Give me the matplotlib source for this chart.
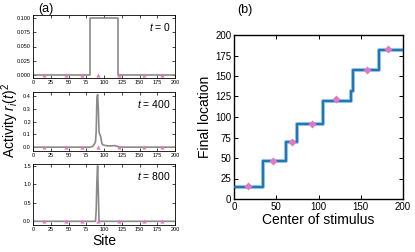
import matplotlib
matplotlib.use("Agg")
import matplotlib.pyplot as plt
import numpy as np

plt.rcParams['font.family'] = ['Liberation Sans', 'DejaVu Sans']
plt.rcParams['mathtext.fontset'] = 'custom'
plt.rcParams['mathtext.it'] = 'Liberation Sans:italic'
plt.rcParams['mathtext.rm'] = 'Liberation Sans'

# Stimulus centres (markers)
centers = [16, 46, 69, 92, 121, 157, 182]
final_at_centers = [16, 46, 69, 92, 122, 157, 183]

# Activity profiles (site, value)
t0_sites = [0, 80, 80, 120, 120, 200]
t0_vals = [0.0, 0.0, 0.1, 0.1, 0.0, 0.0]

t400_sites = [0, 80, 84, 86, 88, 89, 90, 91, 92, 93, 94, 95, 96, 97, 98, 100, 105, 110, 115, 118, 120, 125, 200]
t400_vals = [0.0, 0.0, 0.005, 0.02, 0.04, 0.12, 0.38, 0.41, 0.3, 0.12, 0.1, 0.09, 0.06, 0.03, 0.02, 0.015, 0.01, 0.01, 0.012, 0.008, 0.003, 0.0, 0.0]

t800_sites = [0, 88, 89, 90, 91, 92, 93, 200]
t800_vals = [0.0, 0.0, 0.3, 1.1, 1.5, 0.8, 0.0, 0.0]

# Final location vs. stimulus centre (step function)
step_x = [0, 34.5, 34.5, 62, 62, 75, 75, 105, 105, 139, 139, 141, 141, 171.5, 171.5, 200]
step_y = [15, 15, 46, 46, 70, 70, 91, 91, 120, 120, 132, 132, 157, 157, 182, 182]

fig = plt.figure(figsize=(4.15, 2.52), dpi=100)
W, H = 415, 252

def ax_px(l, t, r, b):
    return fig.add_axes([l / W, 1 - b / H, (r - l) / W, (b - t) / H])

gray = '#8a8a8a'
pink = '#e377c2'

panels = [
    (15, 78, t0_sites, t0_vals, (-0.006, 0.106), [0, 0.025, 0.05, 0.075, 0.1], ['0.000', '0.025', '0.050', '0.075', '0.100'], '$t$ = 0'),
    (92, 151, t400_sites, t400_vals, (-0.03, 0.43), [0, 0.1, 0.2, 0.3, 0.4], ['0.0', '0.1', '0.2', '0.3', '0.4'], '$t$ = 400'),
    (164, 225, t800_sites, t800_vals, (-0.1, 1.55), [0, 0.5, 1.0, 1.5], ['0.0', '0.5', '1.0', '1.5'], '$t$ = 800'),
]
for top, bot, sx, sy, yl, yt, ytl, lab in panels:
    ax = ax_px(33, top, 175, bot)
    ax.plot(sx, sy, color=gray, lw=1.2, zorder=2)
    ax.plot(centers, [0] * len(centers), '^', color=pink, ms=3, mec='none', zorder=3)
    ax.set_xlim(0, 200)
    ax.set_ylim(*yl)
    ax.set_xticks(np.arange(0, 201, 25))
    ax.set_yticks(yt)
    ax.set_yticklabels(ytl)
    ax.tick_params(direction='in', labelsize=4, length=2, width=0.5, pad=1.5, top=True, right=True)
    for s in ax.spines.values():
        s.set_linewidth(0.6)
    ax.text(0.97, 0.9, lab, transform=ax.transAxes, ha='right', va='top', fontsize=7.5)

fig.text(38 / W, 1 - 9 / H, '(a)', fontsize=9, va='center', ha='left')
fig.text(10.5 / W, 1 - 120 / H, 'Activity $r_i(t)^2$', rotation=90, fontsize=10, va='center', ha='center')
fig.text(104 / W, 1 - 241 / H, 'Site', fontsize=10, va='center', ha='center')

axb = ax_px(234, 35, 403, 199)
axb.plot(step_x, step_y, color='#a8cbe6', lw=3.0, zorder=2)
axb.plot(step_x, step_y, color='#1f77b4', lw=1.6, zorder=3)
axb.plot(centers, final_at_centers, 'D', color=pink, ms=4, mec='none', zorder=4)
axb.set_xlim(0, 200)
axb.set_ylim(0, 200)
axb.set_xticks([0, 50, 100, 150, 200])
axb.set_yticks(np.arange(0, 201, 25))
axb.tick_params(direction='in', labelsize=7, length=3, width=0.7, pad=2, top=True, right=True)
for s in axb.spines.values():
    s.set_linewidth(1.0)
axb.set_xlabel('Center of stimulus', fontsize=10, labelpad=1)
axb.set_ylabel('Final location', fontsize=10, labelpad=2)
fig.text(237 / W, 1 - 10 / H, '(b)', fontsize=9, va='center', ha='left')

fig.savefig('out.png', dpi=100)
